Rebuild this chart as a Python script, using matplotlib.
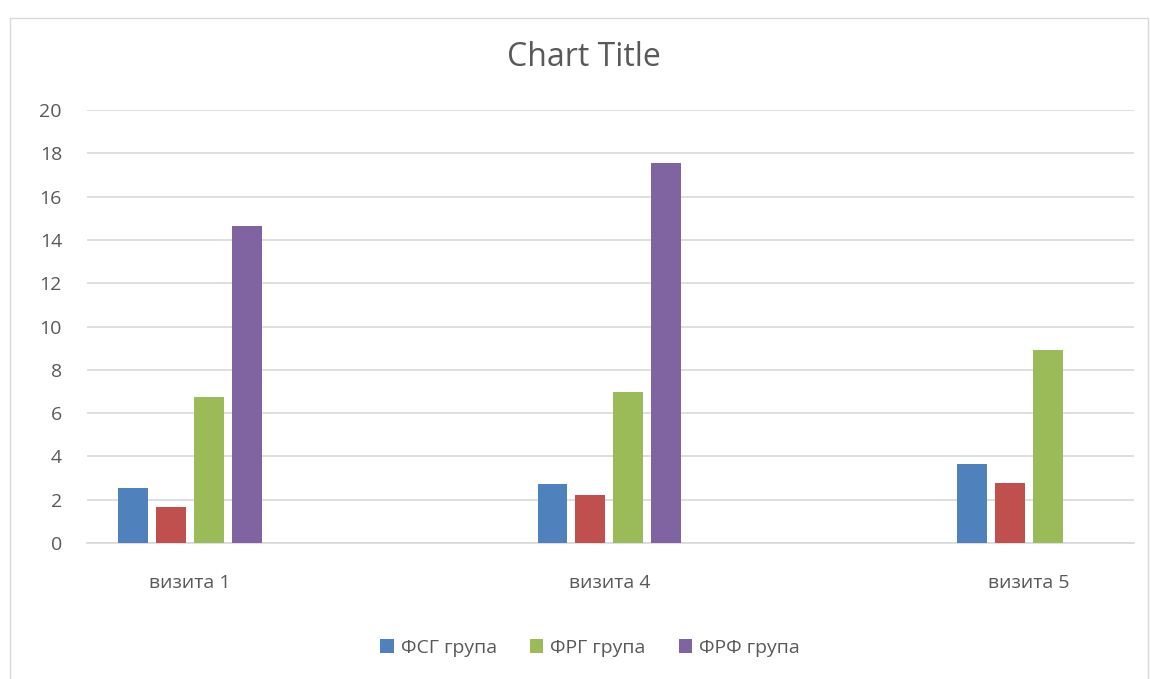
import matplotlib.pyplot as plt
import numpy as np
from matplotlib.patches import Rectangle

categories = ['визита 1', 'визита 4', 'визита 5']
fsg = [2.54, 2.72, 3.65]
red_series = [1.66, 2.22, 2.76]          # серия без име в легендата
frg = [6.74, 6.99, 8.91]
frf = [14.64, 17.57, np.nan]

series_names = ['ФСГ група', '_nolegend_', 'ФРГ група', 'ФРФ група']
series_values = [fsg, red_series, frg, frf]
colors = ['#4F81BD', '#C0504D', '#9BBB59', '#8064A2']
text_color = '#595959'

plt.rcParams['font.family'] = ['Open Sans', 'DejaVu Sans']

fig = plt.figure(figsize=(11.5, 6.79), dpi=100)
ax = fig.add_axes([87 / 1150, 136 / 679, 1047 / 1150, 433 / 679])

# рамка на диаграмата
fig.patches.append(Rectangle((10 / 1150, -0.01), 1138 / 1150, 668 / 679,
                             transform=fig.transFigure, fill=False,
                             edgecolor='#D9D9D9', linewidth=1))

x = np.arange(len(categories))
width = 30 / 420
step = 38 / 420
for i, (name, vals, c) in enumerate(zip(series_names, series_values, colors)):
    ax.bar(x + (i - 1.5) * step, vals, width, color=c, label=name, zorder=3)

ax.set_xlim(-0.245, 2.25)
ax.set_ylim(0, 20)
ax.set_yticks(range(0, 21, 2))
ax.set_xticks(x)
ax.set_xticklabels(categories)
ax.tick_params(axis='both', length=0, labelsize=14, colors=text_color)
ax.tick_params(axis='x', pad=22)
ax.tick_params(axis='y', pad=18)
ax.grid(axis='y', color='#D9D9D9', linewidth=1.2, zorder=0)
for s in ['top', 'right', 'left']:
    ax.spines[s].set_visible(False)
ax.spines['bottom'].set_color('#D9D9D9')
ax.spines['bottom'].set_linewidth(1.2)

fig.text(0.508, 0.915, 'Chart Title', ha='center', va='center',
         fontsize=23, color=text_color)

fig.legend(loc='center', bbox_to_anchor=(0.513, 0.046), ncol=3, frameon=False,
           fontsize=14, labelcolor=text_color, handlelength=0.7,
           handleheight=0.7, handletextpad=0.35, columnspacing=1.7)

plt.savefig('out.png', dpi=100)
